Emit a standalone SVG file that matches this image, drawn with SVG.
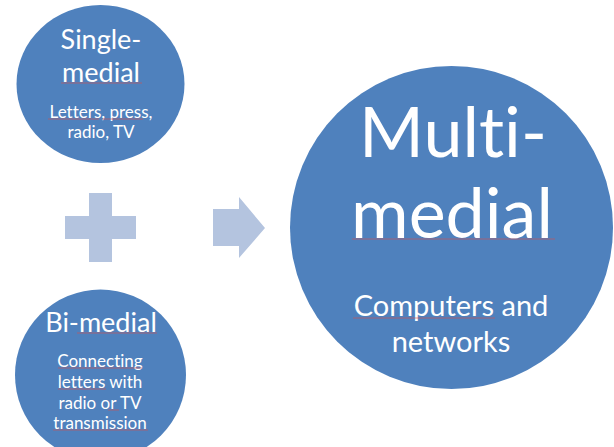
<svg xmlns="http://www.w3.org/2000/svg" width="614" height="447" viewBox="0 0 614 447">
<style>
.c{fill:#4F81BD}
.s{fill:#B4C4DF}
text{font-family:Lato,"Open Sans","Liberation Sans",sans-serif;fill:#fff;text-anchor:middle;font-variant-ligatures:none}
.h{font-size:27px}
.b{font-size:17px}
.m{font-size:70px}
.m2{font-size:29px}
.u{stroke:#D05050;stroke-width:0.8;fill:none;opacity:0.8}
</style>
<rect width="614" height="447" fill="#fff"/>
<g id="single">
<ellipse class="c" cx="100.5" cy="84" rx="84" ry="79"/>
<text class="h" x="101" y="49">Single-</text>
<text class="h" x="101" y="82">medial</text>
<text class="b" x="101" y="118">Letters, press,</text>
<text class="b" x="101" y="138">radio, TV</text>
<path class="u" d="M61 83H142M48 119H99M102 119H143"/>
</g>
<g id="bi">
<circle class="c" cx="100.5" cy="375" r="85.5"/>
<text class="h" x="101" y="332">Bi-medial</text>
<text class="b" x="100" y="367">Connecting</text>
<text class="b" x="100" y="388">letters with</text>
<text class="b" x="100" y="409">radio or TV</text>
<text class="b" x="100" y="429">transmission</text>
<path class="u" d="M77 333H157M58 368H142M58 389H106M108 410H119M53 430H148"/>
</g>
<g id="plus">
<path class="s" d="M89 193H112V216H136V239H112V262H89V239H65V216H89Z"/>
</g>
<g id="connectors">
<path class="s" d="M213 209H239V197L265 228L239 258V246H213Z"/>
</g>
<g id="multi">
<circle class="c" cx="451.5" cy="227.5" r="161.5"/>
<text class="m" x="453" y="157">Multi-</text>
<text class="m" x="452" y="238">medial</text>
<text class="m2" x="451" y="316">Computers and</text>
<text class="m2" x="451" y="352">networks</text>
<path class="u" d="M352 239H555M353 318H495"/>
</g>
</svg>
